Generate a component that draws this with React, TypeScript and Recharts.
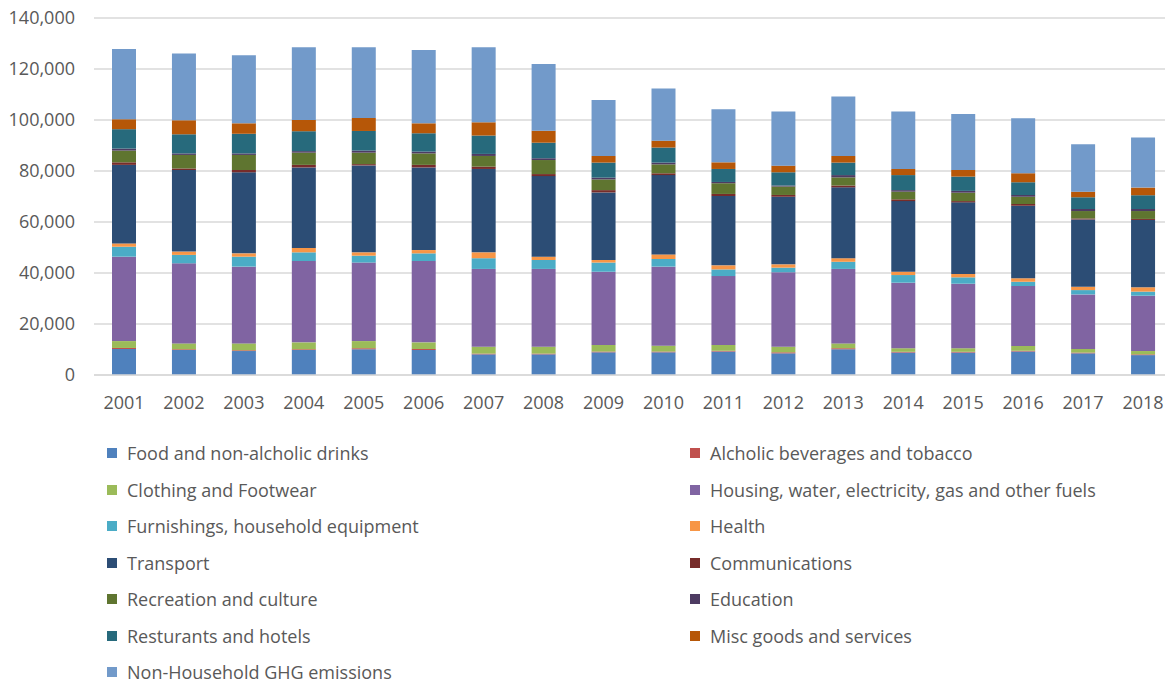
import React from "react";
import { BarChart, Bar, XAxis, YAxis, CartesianGrid } from "recharts";

const years = ["2001","2002","2003","2004","2005","2006","2007","2008","2009","2010","2011","2012","2013","2014","2015","2016","2017","2018"];

const food = [10200, 9800, 9400, 9800, 10100, 9800, 8100, 8100, 8900, 8900, 9200, 8500, 10100, 8800, 8800, 9200, 8500, 7800];
const alcohol = [400, 300, 300, 300, 400, 400, 300, 300, 300, 300, 300, 400, 400, 300, 300, 300, 300, 300];
const clothing = [2700, 2300, 2700, 2700, 2800, 2600, 2700, 2700, 2600, 2300, 2300, 2200, 1900, 1400, 1400, 1900, 1400, 1300];
const housing = [33100, 31400, 30100, 31900, 30800, 31900, 30500, 30500, 28700, 31000, 27000, 29200, 29200, 25700, 25300, 23500, 21400, 21700];
const furnishings = [3900, 3300, 3900, 3400, 2700, 3000, 4200, 3500, 3600, 3000, 2600, 1800, 2800, 3000, 2500, 1700, 1700, 1600];
const health = [1300, 1300, 1300, 1700, 1300, 1300, 2300, 1300, 1000, 1800, 1600, 1300, 1400, 1300, 1300, 1300, 1300, 1700];
const transport = [30800, 32000, 31800, 31600, 34100, 32400, 32700, 31600, 26500, 31100, 27200, 26500, 27800, 27700, 28100, 28500, 26400, 26400];
const communications = [1000, 600, 900, 1000, 500, 1000, 900, 800, 900, 700, 800, 700, 700, 700, 500, 700, 400, 400];
const recreation = [4600, 5300, 5900, 4800, 4500, 4500, 4200, 5500, 4200, 3500, 4200, 3300, 3200, 3000, 3300, 2800, 2900, 3100];
const education = [800, 600, 600, 600, 800, 700, 800, 700, 700, 700, 500, 400, 900, 600, 700, 700, 800, 800];
const restaurants = [7600, 7500, 7700, 7800, 7700, 7200, 7200, 6100, 5900, 5900, 5100, 5200, 4900, 5900, 5600, 5000, 4600, 5400];
const misc = [3900, 5500, 4100, 4400, 5100, 3900, 5200, 4700, 2600, 2700, 2600, 2600, 2600, 2400, 2600, 3500, 2200, 3000];
const nonHousehold = [27500, 26200, 26700, 28500, 27700, 28800, 29400, 26200, 21900, 20500, 20800, 21200, 23300, 22500, 22000, 21600, 18600, 19600];

const yTicks = [0, 20000, 40000, 60000, 80000, 100000, 120000, 140000];

const series = [
  { key: "food", name: "Food and non-alcholic drinks", color: "#4F81BD", values: food },
  { key: "alcohol", name: "Alcholic beverages and tobacco", color: "#C0504D", values: alcohol },
  { key: "clothing", name: "Clothing and Footwear", color: "#9BBB59", values: clothing },
  { key: "housing", name: "Housing, water, electricity, gas and other fuels", color: "#8064A2", values: housing },
  { key: "furnishings", name: "Furnishings, household equipment", color: "#4BACC6", values: furnishings },
  { key: "health", name: "Health", color: "#F79646", values: health },
  { key: "transport", name: "Transport", color: "#2C4D75", values: transport },
  { key: "communications", name: "Communications", color: "#772C2A", values: communications },
  { key: "recreation", name: "Recreation and culture", color: "#5F7530", values: recreation },
  { key: "education", name: "Education", color: "#4D3B62", values: education },
  { key: "restaurants", name: "Resturants and hotels", color: "#276A7C", values: restaurants },
  { key: "misc", name: "Misc goods and services", color: "#B65708", values: misc },
  { key: "nonHousehold", name: "Non-Household GHG emissions", color: "#729ACA", values: nonHousehold },
];

const data = years.map((y, i) => {
  const row: Record<string, any> = { year: y };
  series.forEach((s) => { row[s.key] = s.values[i]; });
  return row;
});

const FONT = "'Open Sans', sans-serif";
const TEXT = "#595959";

export default function App() {
  const rows: typeof series[] = [];
  for (let i = 0; i < series.length; i += 2) rows.push(series.slice(i, i + 2));
  return (
    <div style={{ position: "relative", width: 1165, height: 684, marginTop: -8, fontFamily: FONT, background: "#fff" }}>
      <BarChart width={1165} height={438} data={data} margin={{ top: 18, right: 0, bottom: 0, left: 0 }}>
        <CartesianGrid vertical={false} stroke="#d9d9d9" strokeWidth={1.3} />
        <XAxis
          dataKey="year"
          height={63}
          tickSize={0}
          tickMargin={21}
          axisLine={{ stroke: "#d9d9d9", strokeWidth: 1.3 }}
          tick={{ fill: TEXT, fontSize: 18, fontFamily: FONT }}
        />
        <YAxis
          width={86}
          domain={[0, 140000]}
          ticks={yTicks}
          tickSize={0}
          tickMargin={19}
          axisLine={false}
          tickLine={false}
          tickFormatter={(v: number) => v.toLocaleString("en-US")}
          tick={{ fill: TEXT, fontSize: 18, fontFamily: FONT }}
        />
        {series.map((s) => (
          <Bar key={s.key} dataKey={s.key} name={s.name} stackId="a" fill={s.color} barSize={24} isAnimationActive={false} />
        ))}
      </BarChart>
      {rows.map((pair, r) =>
        pair.map((s, c) => (
          <div
            key={s.key}
            style={{
              position: "absolute",
              left: c === 0 ? 99 : 682,
              top: 453 + r * 36.5 - 12,
              height: 24,
              display: "flex",
              alignItems: "center",
              fontSize: 18,
              color: TEXT,
              whiteSpace: "nowrap",
            }}
          >
            <span style={{ display: "inline-block", width: 10, height: 10, background: s.color, marginRight: 10 }} />
            <span>{s.name}</span>
          </div>
        ))
      )}
    </div>
  );
}
